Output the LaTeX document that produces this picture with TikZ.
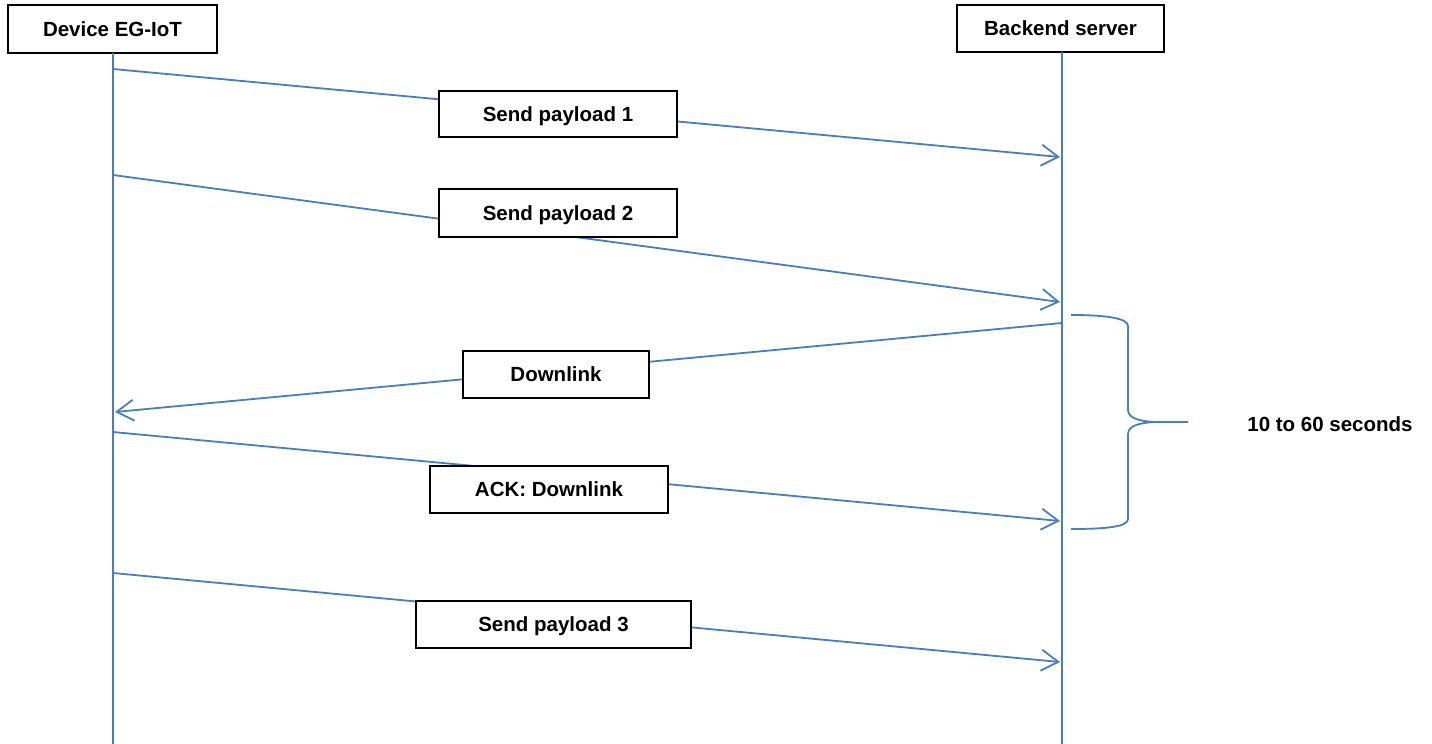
\documentclass[tikz,border=0pt]{standalone}
\usepackage{fontspec}
\setmainfont{Liberation Sans}
\usetikzlibrary{arrows.meta}
\definecolor{lineblue}{HTML}{4A7EBB}
\tikzset{
  actor/.style={draw=black, line width=1.5pt, fill=white, inner sep=0pt, text height=14.5pt, text depth=0pt, font=\fontsize{20.5}{24}\selectfont\bfseries},
  msglabel/.style={draw=black, line width=1.5pt, fill=white, inner sep=0pt, text height=14.5pt, text depth=0pt, font=\fontsize{20.5}{24}\selectfont\bfseries},
  life/.style={draw=lineblue, line width=1.8pt},
  msg/.style={draw=lineblue, line width=1.8pt, -{Straight Barb[length=17pt,width=21pt,line width=1.8pt]}},
  bracestyle/.style={draw=lineblue, line width=1.8pt},
  note/.style={text height=14.5pt, text depth=0pt, font=\fontsize{20.5}{24}\selectfont\bfseries}
}
\begin{document}
\begin{tikzpicture}[x=1pt,y=-1pt]
\useasboundingbox (0,0) rectangle (1432,744);
% actors
\node[actor, minimum width=209pt, minimum height=48pt] (dev) at (112.5,29) {Device EG-IoT};
\node[actor, minimum width=207pt, minimum height=47pt] (srv) at (1060.5,28.5) {Backend server};
\coordinate (devend) at (113,744);
\coordinate (srvend) at (1062,744);
\draw[life] (113,53) coordinate (devtop) -- (devend);
\draw[life] (1062,52) coordinate (srvtop) -- (srvend);
% message anchors
\coordinate (a1) at (113,69);   \coordinate (b1) at (1060,157);
\coordinate (a2) at (113,175);  \coordinate (b2) at (1060,302);
\coordinate (a3) at (1062,323); \coordinate (b3) at (115,412);
\coordinate (a4) at (113,432);  \coordinate (b4) at (1060,521);
\coordinate (a5) at (113,573);  \coordinate (b5) at (1060,662);
\draw[msg] (a1) -- (b1);
\draw[msg] (a2) -- (b2);
\draw[msg] (a3) -- (b3);
\draw[msg] (a4) -- (b4);
\draw[msg] (a5) -- (b5);
% labels
\node[msglabel, minimum width=238pt, minimum height=46pt] (l1) at (558,114) {Send payload 1};
\node[msglabel, minimum width=238pt, minimum height=48pt] (l2) at (558,213) {Send payload 2};
\node[msglabel, minimum width=186pt, minimum height=47pt] (l3) at (556,374.5) {Downlink};
\node[msglabel, minimum width=238pt, minimum height=47pt] (l4) at (549,489.5) {ACK: Downlink};
\node[msglabel, minimum width=275pt, minimum height=47pt] (l5) at (553.5,624.5) {Send payload 3};
% brace
\coordinate (btop) at (1071,315);
\coordinate (bbot) at (1071,529);
\coordinate (btip) at (1188,422);
\draw[bracestyle] (btop) .. controls (1105,315) and (1128,318) .. (1128,326)
  -- (1128,410) .. controls (1128,419) and (1142,422) .. (1160,422) -- (btip);
\draw[bracestyle] (1160,422) .. controls (1142,422) and (1128,425) .. (1128,434)
  -- (1128,519) .. controls (1128,527) and (1105,529) .. (bbot);
\node[note] (dur) at (1330,424) {10 to 60 seconds};
\end{tikzpicture}
\end{document}
